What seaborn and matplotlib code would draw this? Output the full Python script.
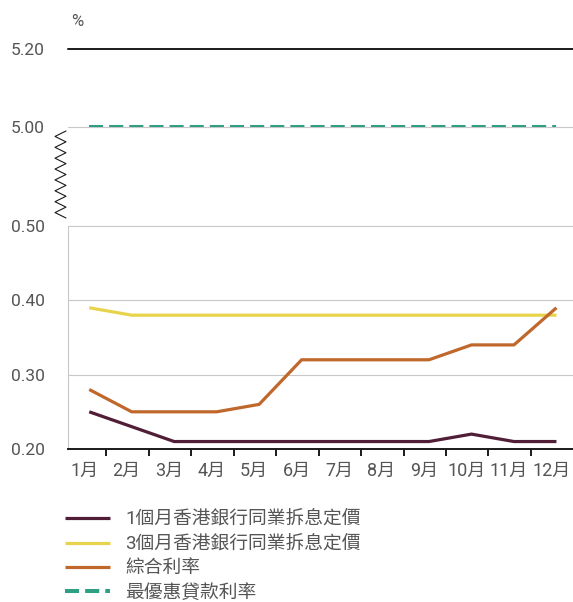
import numpy as np
import pandas as pd
import matplotlib.pyplot as plt
import seaborn as sns

# Data (%)
months = ['1月', '2月', '3月', '4月', '5月', '6月', '7月', '8月', '9月', '10月', '11月', '12月']
hibor_1m = [0.25, 0.23, 0.21, 0.21, 0.21, 0.21, 0.21, 0.21, 0.21, 0.22, 0.21, 0.21]
hibor_3m = [0.39, 0.38, 0.38, 0.38, 0.38, 0.38, 0.38, 0.38, 0.38, 0.38, 0.38, 0.38]
composite = [0.28, 0.25, 0.25, 0.25, 0.26, 0.32, 0.32, 0.32, 0.32, 0.34, 0.34, 0.39]
prime = [5.00, 5.00, 5.00, 5.00, 5.00, 5.00, 5.00, 5.00, 5.00, 5.00, 5.00, 5.00]

series_labels = ['1個月香港銀行同業拆息定價', '3個月香港銀行同業拆息定價', '綜合利率', '最優惠貸款利率']
colors = ['#501e36', '#e8d44c', '#c0682c', '#2e9f82']

sns.set_theme(style='white')
plt.rcParams['font.family'] = ['Roboto', 'Noto Sans CJK TC', 'DejaVu Sans']

grey_txt = '#555555'
grid_c = '#c8c8c8'

fig = plt.figure(figsize=(5.73, 6.02), dpi=100)
ax_top = fig.add_axes([0.1187, 0.7885, 0.8813, 0.1301])
ax = fig.add_axes([0.1187, 0.2542, 0.8813, 0.3704])

x = np.arange(len(months))
df = pd.DataFrame({'x': x, 'h1': hibor_1m, 'h3': hibor_3m, 'comp': composite, 'prime': prime})

# lower panel
for col, lab, c in zip(['h1', 'h3', 'comp'], series_labels[:3], colors[:3]):
    sns.lineplot(data=df, x='x', y=col, ax=ax, color=c, lw=2.3, label=lab,
                 solid_capstyle='butt', zorder=3)
# upper panel
sns.lineplot(data=df, x='x', y='prime', ax=ax_top, color=colors[3], lw=2.9,
             label=series_labels[3], linestyle=(0, (3.5, 1.5)), dash_capstyle='butt')

xlim = (-0.5, 11.39)

# upper axes styling
ax_top.set_xlim(*xlim)
ax_top.set_ylim(5.0, 5.2)
ax_top.set_yticks([5.0, 5.2])
ax_top.set_yticklabels(['5.00', '5.20'])
ax_top.set_xticks([])
for s in ax_top.spines.values():
    s.set_visible(False)
ax_top.axhline(5.2, color='#1a1a1a', lw=1.4, clip_on=False, zorder=1)
ax_top.axhline(5.0, color=grid_c, lw=0.8, clip_on=False, zorder=0)
ax_top.set_xlabel('')
ax_top.set_ylabel('')

# lower axes styling
ax.set_xlim(*xlim)
ax.set_ylim(0.2, 0.5)
ax.set_yticks([0.2, 0.3, 0.4, 0.5])
ax.set_yticklabels(['0.20', '0.30', '0.40', '0.50'])
for yv in [0.3, 0.4, 0.5]:
    ax.axhline(yv, color=grid_c, lw=0.8, clip_on=False, zorder=0)
ax.spines['top'].set_visible(False)
ax.spines['right'].set_visible(False)
ax.spines['left'].set_color(grid_c)
ax.spines['left'].set_linewidth(0.8)
ax.spines['bottom'].set_color('#1a1a1a')
ax.spines['bottom'].set_linewidth(1.4)
ax.set_xticks(x - 0.12)
ax.set_xticklabels(months)
ax.set_xticks(x[:-1] + 0.4, minor=True)
ax.tick_params(axis='x', which='major', length=0, pad=9, labelsize=13, colors=grey_txt)
ax.tick_params(axis='x', which='minor', bottom=True, length=5, width=1.4, color='#1a1a1a', direction='out')
ax.set_xlabel('')
ax.set_ylabel('')

for a in (ax, ax_top):
    a.tick_params(axis='y', length=0, pad=17, labelsize=12.5, colors=grey_txt)

fig.text(77 / 573, 1 - 22 / 602, '%', ha='center', va='center', fontsize=12, color=grey_txt)

# axis-break zigzag
zy = np.linspace(131, 218, 17)
zx = np.where(np.arange(17) % 2 == 0, 66, 55)
fig.add_artist(plt.Line2D(zx / 573, 1 - zy / 602, color='#1a1a1a', lw=0.8, transform=fig.transFigure))

# legend below the plot
handles = ax.get_legend().legend_handles + ax_top.get_legend().legend_handles
ax.get_legend().remove()
ax_top.get_legend().remove()
fig.legend(handles, series_labels, loc='upper left', bbox_to_anchor=(65 / 573, 1 - 511 / 602),
           frameon=False, fontsize=13.5, handlelength=2.4, handletextpad=0.8,
           labelspacing=0.33, borderaxespad=0, borderpad=0, labelcolor=grey_txt)

fig.savefig('out.png', dpi=100)
